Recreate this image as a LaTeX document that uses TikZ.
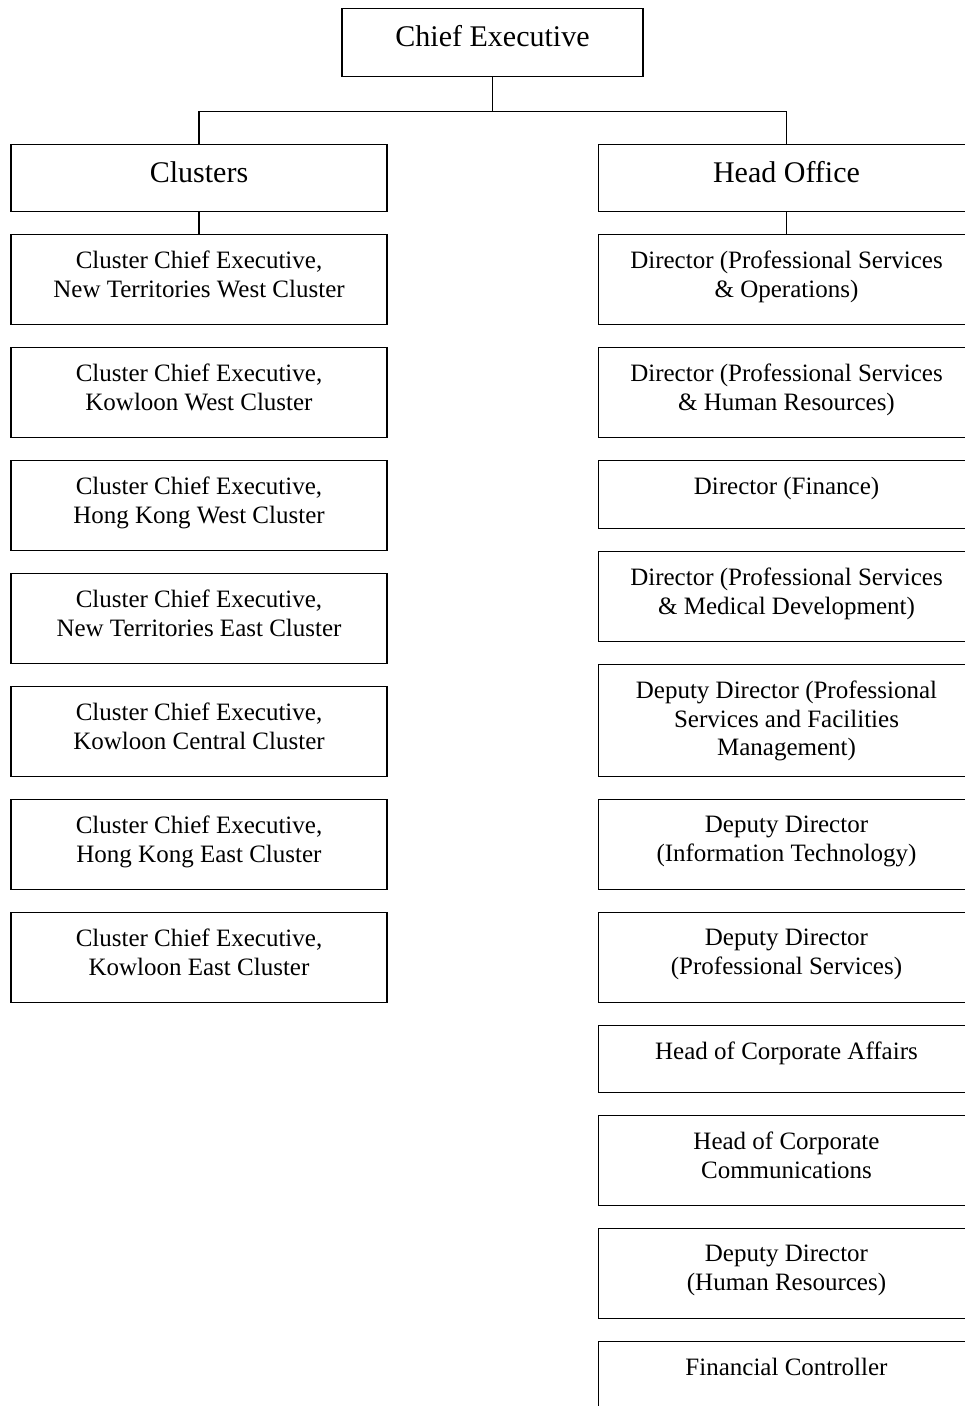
\documentclass[tikz,border=0pt]{standalone}
\usepackage{fontspec}
\setmainfont{Liberation Serif}
\begin{document}
\begin{tikzpicture}[x=1pt,y=-1pt,
  box/.style={draw,line width=1.1pt,minimum width=376pt,inner sep=0pt,anchor=north},
  small/.style={align=center,inner sep=0pt,anchor=north,font=\fontsize{25}{28.5}\selectfont},
  big/.style={inner sep=0pt,anchor=base,font=\fontsize{30}{36}\selectfont},
  link/.style={line width=1.1pt}]
\useasboundingbox (0,0) rectangle (965,1406);
\clip (0,0) rectangle (965,1406);
% top
\node[box,minimum width=301pt,minimum height=68pt] (ce) at (492.5,8) {};
\node[big] (cet) at (492.5,46) {Chief Executive};
\node[box,minimum height=67pt] (cl) at (199,144) {};
\node[big] (clt) at (199,182) {Clusters};
\node[box,minimum height=67pt] (ho) at (786.5,144) {};
\node[big] (hot) at (786.5,182) {Head Office};
\draw[link] (ce.south) -- ++(0,34) coordinate (j);
\draw[link] (cl.north) |- (j) -| (ho.north);
% left column
\node[box,minimum height=90pt] (l1) at (199,234) {};
\node[small] (l1t) at (199,251) {Cluster Chief Executive,\\New Territories West Cluster};
\node[box,minimum height=90pt] (l2) at (199,347) {};
\node[small] (l2t) at (199,364) {Cluster Chief Executive,\\Kowloon West Cluster};
\node[box,minimum height=90pt] (l3) at (199,460) {};
\node[small] (l3t) at (199,477) {Cluster Chief Executive,\\Hong Kong West Cluster};
\node[box,minimum height=90pt] (l4) at (199,573) {};
\node[small] (l4t) at (199,590) {Cluster Chief Executive,\\New Territories East Cluster};
\node[box,minimum height=90pt] (l5) at (199,686) {};
\node[small] (l5t) at (199,703) {Cluster Chief Executive,\\Kowloon Central Cluster};
\node[box,minimum height=90pt] (l6) at (199,799) {};
\node[small] (l6t) at (199,816) {Cluster Chief Executive,\\Hong Kong East Cluster};
\node[box,minimum height=90pt] (l7) at (199,912) {};
\node[small] (l7t) at (199,929) {Cluster Chief Executive,\\Kowloon East Cluster};
\draw[link] (cl.south) -- (l1.north);
% right column
\node[box,minimum height=90pt] (r1) at (786.5,234) {};
\node[small] (r1t) at (786.5,251) {Director (Professional Services\\\& Operations)};
\node[box,minimum height=90pt] (r2) at (786.5,347) {};
\node[small] (r2t) at (786.5,364) {Director (Professional Services\\\& Human Resources)};
\node[box,minimum height=68pt] (r3) at (786.5,460) {};
\node[small] (r3t) at (786.5,477) {Director (Finance)};
\node[box,minimum height=90pt] (r4) at (786.5,551) {};
\node[small] (r4t) at (786.5,568) {Director (Professional Services\\\& Medical Development)};
\node[box,minimum height=112pt] (r5) at (786.5,664) {};
\node[small] (r5t) at (786.5,681) {Deputy Director (Professional\\Services and Facilities\\Management)};
\node[box,minimum height=90pt] (r6) at (786.5,799) {};
\node[small] (r6t) at (786.5,816) {Deputy Director\\(Information Technology)};
\node[box,minimum height=90pt] (r7) at (786.5,912) {};
\node[small] (r7t) at (786.5,929) {Deputy Director\\(Professional Services)};
\node[box,minimum height=67pt] (r8) at (786.5,1025) {};
\node[small] (r8t) at (786.5,1042) {Head of Corporate Affairs};
\node[box,minimum height=90pt] (r9) at (786.5,1115) {};
\node[small] (r9t) at (786.5,1132) {Head of Corporate\\Communications};
\node[box,minimum height=90pt] (r10) at (786.5,1228) {};
\node[small] (r10t) at (786.5,1245) {Deputy Director\\(Human Resources)};
\node[box,minimum height=90pt] (r11) at (786.5,1341) {};
\node[small] (r11t) at (786.5,1358) {Financial Controller};
\draw[link] (ho.south) -- (r1.north);
\end{tikzpicture}
\end{document}
